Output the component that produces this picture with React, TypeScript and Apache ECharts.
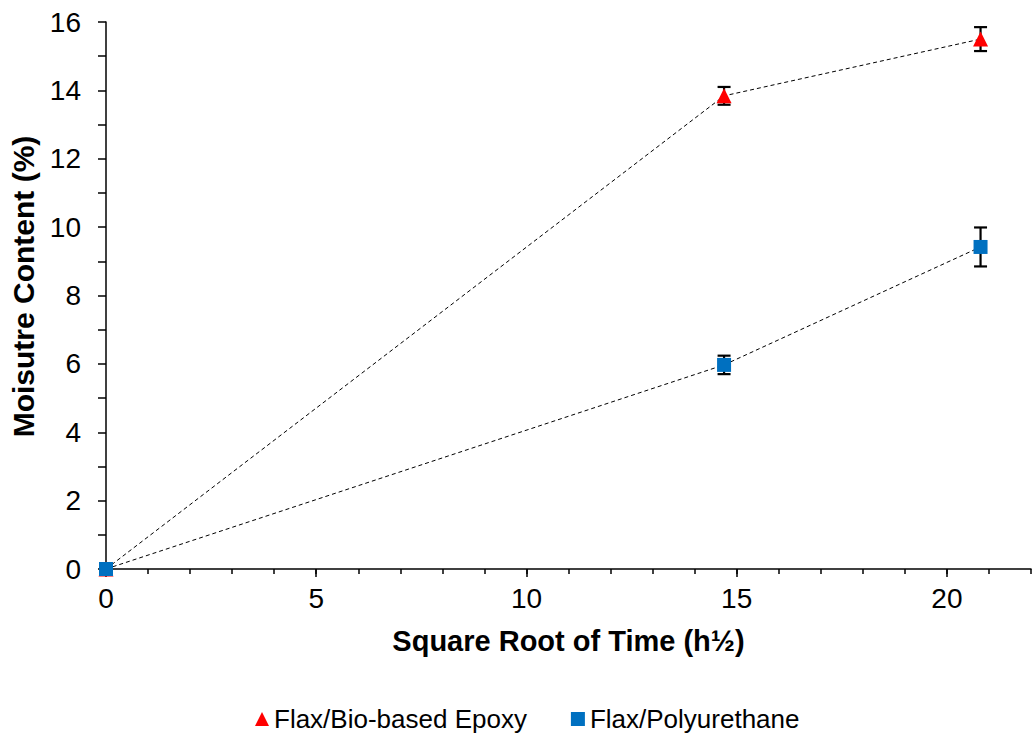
import React, { useEffect, useRef } from "react";
import * as echarts from "echarts";

const xValues = [0, 14.7, 20.8];
const epoxyValues = [0, 13.84, 15.5];
const epoxyErr = [0, 0.26, 0.35];
const puValues = [0, 5.97, 9.42];
const puErr = [0, 0.27, 0.57];
const xMajorTicks = [0, 5, 10, 15, 20];
const seriesNames = ["Flax/Bio-based Epoxy", "Flax/Polyurethane"];

const FONT = "'Liberation Sans', Arial, sans-serif";

export default function App() {
  const ref = useRef<HTMLDivElement>(null);
  useEffect(() => {
    if (!ref.current) return;
    const chart = echarts.init(ref.current, null, { renderer: "svg" });
    const pts = (ys: number[]) => xValues.map((x, i) => [x, ys[i]]);
    const errs = (ys: number[], es: number[]) =>
      xValues
        .map((x, i) => [x, ys[i] - es[i], ys[i] + es[i]])
        .filter((d, i) => es[i] > 0);
    const errRender = (params: any, api: any) => {
      const x = api.value(0);
      const lo = api.coord([x, api.value(1)]);
      const hi = api.coord([x, api.value(2)]);
      const w = 6.5;
      const style = { stroke: "#000", lineWidth: 2.2 };
      return {
        type: "group",
        children: [
          { type: "line", shape: { x1: lo[0], y1: lo[1], x2: hi[0], y2: hi[1] }, style },
          { type: "line", shape: { x1: lo[0] - w, y1: lo[1], x2: lo[0] + w, y2: lo[1] }, style },
          { type: "line", shape: { x1: hi[0] - w, y1: hi[1], x2: hi[0] + w, y2: hi[1] }, style },
        ],
      };
    };
    const axisLine = { show: true, onZero: false, lineStyle: { color: "#000", width: 1.5 } };
    chart.setOption({
      animation: false,
      textStyle: { fontFamily: FONT },
      grid: { left: 106, right: 1, top: 22, bottom: 166, containLabel: false },
      legend: {
        left: 250,
        top: 701,
        itemGap: 44,
        itemWidth: 14,
        itemHeight: 14,
        textStyle: { fontSize: 26, color: "#000", fontFamily: FONT },
        data: [
          { name: seriesNames[0], icon: "triangle", itemStyle: { color: "#FF0000" } },
          { name: seriesNames[1], icon: "rect", itemStyle: { color: "#0070C0" } },
        ],
      },
      xAxis: [
        {
          type: "value",
          min: 0,
          max: 22,
          interval: 5,
          position: "bottom",
          name: "Square Root of Time (h½)",
          nameLocation: "middle",
          nameGap: 57,
          nameTextStyle: { fontSize: 29, fontWeight: "bold", color: "#000", fontFamily: FONT },
          axisLine,
          axisTick: { show: true, length: 8, lineStyle: { color: "#000", width: 1.5 } },
          axisLabel: {
            fontSize: 28,
            color: "#000",
            margin: 15,
            showMaxLabel: false,
            fontFamily: FONT,
            formatter: (v: number) => (xMajorTicks.includes(v) ? String(v) : ""),
          },
          splitLine: { show: false },
        },
        {
          type: "value",
          min: 0,
          max: 22,
          interval: 1,
          position: "bottom",
          axisLine: { show: false },
          axisTick: { show: true, length: 5, lineStyle: { color: "#000", width: 1.5 } },
          axisLabel: { show: false },
          splitLine: { show: false },
        },
      ],
      yAxis: {
        type: "value",
        min: 0,
        max: 16,
        interval: 2,
        name: "Moisutre Content (%)",
        nameLocation: "middle",
        nameGap: 64,
        nameTextStyle: {
          fontSize: 30,
          fontWeight: "bold",
          color: "#000",
          fontFamily: FONT,
          padding: [0, 0, 0, 18],
        },
        axisLine,
        axisTick: { show: true, length: 8, lineStyle: { color: "#000", width: 1.5 } },
        minorTick: { show: true, splitNumber: 2, length: 8, lineStyle: { color: "#000", width: 1.5 } },
        axisLabel: { fontSize: 28, color: "#000", margin: 25, fontFamily: FONT },
        splitLine: { show: false },
      },
      series: [
        {
          type: "custom",
          name: "errEpoxy",
          renderItem: errRender,
          data: errs(epoxyValues, epoxyErr),
          encode: { x: 0, y: [1, 2] },
          z: 1,
          silent: true,
        },
        {
          type: "custom",
          name: "errPU",
          renderItem: errRender,
          data: errs(puValues, puErr),
          encode: { x: 0, y: [1, 2] },
          z: 1,
          silent: true,
        },
        {
          type: "line",
          name: seriesNames[0],
          data: pts(epoxyValues),
          symbol: "triangle",
          symbolSize: 15,
          itemStyle: { color: "#FF0000" },
          lineStyle: { color: "#000", width: 1, type: [4, 3] },
          z: 3,
        },
        {
          type: "line",
          name: seriesNames[1],
          data: pts(puValues),
          symbol: "rect",
          symbolSize: 14,
          itemStyle: { color: "#0070C0" },
          lineStyle: { color: "#000", width: 1, type: [4, 3] },
          z: 4,
        },
      ],
    });
    return () => chart.dispose();
  }, []);
  return (
    <div
      ref={ref}
      style={{ position: "fixed", left: 0, top: 0, width: 1032, height: 735, background: "#fff" }}
    />
  );
}
